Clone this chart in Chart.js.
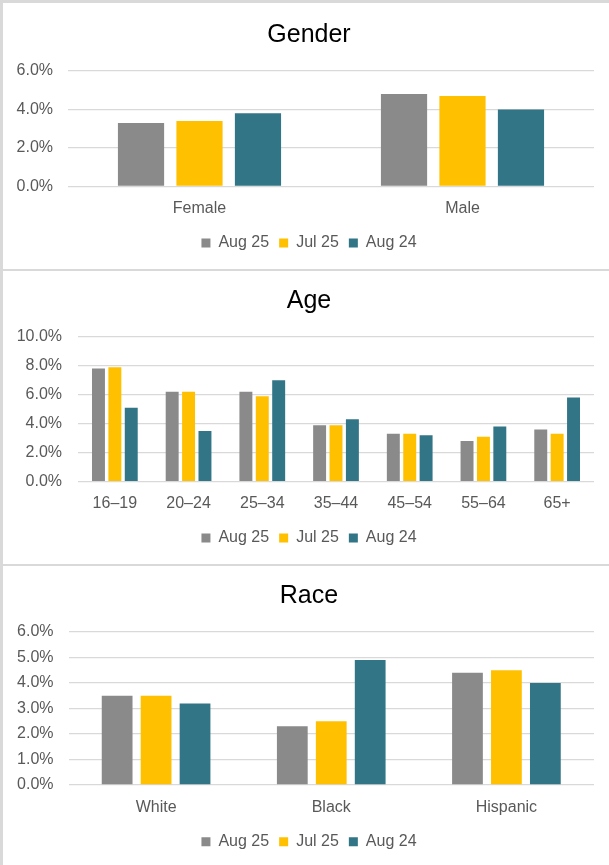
<!DOCTYPE html>
<html>
<head>
<meta charset="utf-8">
<script src="https://cdn.jsdelivr.net/npm/chart.js@4.4.1/dist/chart.umd.min.js"></script>
<style>
    html, body { margin: 0; padding: 0; background: #ffffff; }
    body { width: 609px; height: 865px; position: relative; overflow: hidden; }
    .rule { position: absolute; background: #d9d9d9; }
    .panel { position: absolute; left: 3px; width: 606px; }
</style>
</head>
<body>
<div class="rule" style="left:0;top:0;width:3px;height:865px"></div>
<div class="rule" style="left:0;top:0;width:609px;height:3px"></div>
<div class="rule" style="left:3px;top:268.5px;width:606px;height:2px"></div>
<div class="rule" style="left:3px;top:563.5px;width:606px;height:2px"></div>

<div class="panel" style="top:3px;height:265px"><canvas id="genderChart"></canvas></div>
<div class="panel" style="top:271px;height:292px"><canvas id="ageChart"></canvas></div>
<div class="panel" style="top:566px;height:299px"><canvas id="raceChart"></canvas></div>

<script>
// Series names and colours
const seriesNames = ['Aug 25', 'Jul 25', 'Aug 24'];
const seriesColors = ['#8a8a8a', '#ffc000', '#327587'];

// Gender (percent)
const genderCategories = ['Female', 'Male'];
const genderAug25 = [3.3, 4.8];
const genderJul25 = [3.4, 4.7];
const genderAug24 = [3.8, 4.0];

// Age (percent)
const ageCategories = ['16–19', '20–24', '25–34', '35–44', '45–54', '55–64', '65+'];
const ageAug25 = [7.8, 6.2, 6.2, 3.9, 3.3, 2.8, 3.6];
const ageJul25 = [7.9, 6.2, 5.9, 3.9, 3.3, 3.1, 3.3];
const ageAug24 = [5.1, 3.5, 7.0, 4.3, 3.2, 3.8, 5.8];

// Race (percent)
const raceCategories = ['White', 'Black', 'Hispanic'];
const raceAug25 = [3.5, 2.3, 4.4];
const raceJul25 = [3.5, 2.5, 4.5];
const raceAug24 = [3.2, 4.9, 4.0];

// Shared text settings
const FONT = "'Liberation Sans', Arial, sans-serif";
const TEXT_GREY = '#595959';

// Title and legend sit a bit right of the canvas centre in the original
const centreShift = {
    id: 'centreShift',
    afterLayout(chart, args, opts) {
        [chart.titleBlock, chart.legend].forEach(box => {
            if (box) {
                box.left += opts.shift;
                box.right += opts.shift;
            }
        });
    }
};

// Build one panel
function createPanel(id, title, categories, values, yMax, yStep, geo) {
    const ctx = document.getElementById(id);
    if (!ctx) return null;

    const datasets = values.map((data, idx) => ({
        label: seriesNames[idx],
        data: data,
        backgroundColor: seriesColors[idx],
        borderWidth: 0,
        categoryPercentage: 0.667,
        barPercentage: 0.79
    }));

    return new Chart(ctx, {
        type: 'bar',
        data: {
            labels: categories,
            datasets: datasets
        },
        plugins: [centreShift],
        options: {
            responsive: true,
            maintainAspectRatio: false,
            animation: false,
            layout: {
                padding: { left: 0, right: 15, top: 0, bottom: geo.padBottom }
            },
            plugins: {
                centreShift: { shift: 10.5 },
                tooltip: { enabled: false },
                title: {
                    display: true,
                    text: title,
                    color: '#000000',
                    font: { family: FONT, size: 25, weight: 'normal', lineHeight: 1.2 },
                    padding: { top: geo.titleTop, bottom: geo.titleBottom }
                },
                legend: {
                    position: 'bottom',
                    labels: {
                        color: TEXT_GREY,
                        font: { family: FONT, size: 16 },
                        boxWidth: 9,
                        boxHeight: 9,
                        padding: 10
                    }
                }
            },
            scales: {
                x: {
                    grid: { display: false },
                    border: { display: false },
                    ticks: {
                        color: TEXT_GREY,
                        font: { family: FONT, size: 16 },
                        padding: geo.xPad,
                        maxRotation: 0
                    },
                    afterFit: (scale) => { scale.height = geo.xHeight; }
                },
                y: {
                    min: 0,
                    max: yMax,
                    grid: { color: '#d9d9d9', lineWidth: 1.3, drawTicks: false },
                    border: { display: false },
                    ticks: {
                        stepSize: yStep,
                        color: TEXT_GREY,
                        font: { family: FONT, size: 16 },
                        padding: geo.yPad,
                        callback: (v) => v.toFixed(1) + '%'
                    },
                    afterFit: (scale) => { scale.width = geo.yWidth; }
                }
            }
        }
    });
}

createPanel('genderChart', 'Gender', genderCategories,
    [genderAug25, genderJul25, genderAug24], 6, 2,
    { titleTop: 17.5, titleBottom: 20.5, xPad: 4, xHeight: 38.5, padBottom: 7, yWidth: 65, yPad: 15 });

createPanel('ageChart', 'Age', ageCategories,
    [ageAug25, ageJul25, ageAug24], 10, 2,
    { titleTop: 15, titleBottom: 20.7, xPad: 4.7, xHeight: 38.3, padBottom: 7, yWidth: 75, yPad: 16 });

createPanel('raceChart', 'Race', raceCategories,
    [raceAug25, raceJul25, raceAug24], 6, 1,
    { titleTop: 15.5, titleBottom: 20.5, xPad: 5, xHeight: 38.7, padBottom: 5.3, yWidth: 65.5, yPad: 15 });
</script>
</body>
</html>
